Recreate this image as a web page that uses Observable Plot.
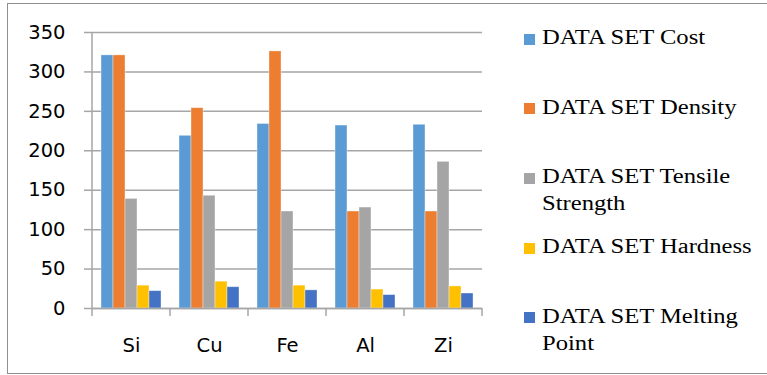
<!DOCTYPE html>
<html>
<head>
<meta charset="utf-8">
<script src="https://cdn.jsdelivr.net/npm/d3@7"></script>
<script src="https://cdn.jsdelivr.net/npm/@observablehq/plot@0.6"></script>
<style>
  html, body { margin: 0; padding: 0; background: #fff; overflow: hidden; }
  #wrap { position: relative; width: 767px; height: 375px; overflow: hidden; }
  #frame { position: absolute; left: 7px; top: 3px; width: 800px; height: 371px;
           border: 1px solid #8f8f8f; box-sizing: border-box; }
  #chart { position: absolute; left: 0; top: 0; }
  #legend { position: absolute; left: 524px; top: 0; width: 240px; height: 375px;
            font-family: "Liberation Serif", "Times New Roman", serif; font-size: 21.6px; color: #000; }
  .item { position: absolute; left: 0; }
  .sw { position: absolute; left: 0; width: 11px; height: 11px; }
  .lab { position: absolute; left: 18px; width: 192px; line-height: 27px;
         transform: scaleX(1.14); transform-origin: 0 0; }
</style>
</head>
<body>
<div id="wrap">
  <div id="frame"></div>
  <div id="chart"></div>
  <div id="legend"></div>
</div>
<script>
// Materials on the category axis
const categories = ["Si", "Cu", "Fe", "Al", "Zi"];

// Series names (legend order)
const series = [
  "DATA SET Cost",
  "DATA SET Density",
  "DATA SET Tensile Strength",
  "DATA SET Hardness",
  "DATA SET Melting Point"
];

// Values per series, one per material
const cost     = [321, 219, 234, 232, 233];
const density  = [321, 254, 326, 123, 123];
const tensile  = [139, 143, 123, 128, 186];
const hardness = [29, 34, 29, 24, 28];
const melting  = [22, 27, 23, 17, 19];

const colors = ["#5B9BD5", "#ED7D31", "#A5A5A5", "#FFC000", "#4472C4"];
const yTicks = [0, 50, 100, 150, 200, 250, 300, 350];

// Long-format table for the grouped bars
const seriesValues = [cost, density, tensile, hardness, melting];
const rows = [];
seriesValues.forEach((vals, si) =>
  vals.forEach((v, ci) => rows.push({category: categories[ci], series: series[si], value: v}))
);

const axisGray = "#a6a6a6";

const plot = Plot.plot({
  width: 490,
  height: 375,
  marginLeft: 90,
  marginRight: 7,
  marginTop: 32,
  marginBottom: 67,
  style: {fontFamily: "'DejaVu Sans', sans-serif", fontSize: "19.5px", color: "#000", background: "transparent", overflow: "visible"},
  fx: {domain: categories, padding: 0, label: null, axis: null},
  x: {domain: series, paddingInner: 0, paddingOuter: 0.72, axis: null},
  y: {domain: [0, 350], label: null, axis: null},
  color: {domain: series, range: colors},
  marks: [
    Plot.gridY(yTicks, {stroke: axisGray, strokeOpacity: 1, strokeWidth: 1.5}),
    Plot.barY(rows, {
      fx: "category", x: "series", y: "value", fill: "series",
      inset: 0, stroke: "#ffffff", strokeOpacity: 0.45, strokeWidth: 0.8
    }),
    Plot.ruleY([0], {stroke: axisGray, strokeWidth: 1.5}),
    Plot.axisY(yTicks, {
      tickSize: 8, tickPadding: 19, stroke: axisGray, strokeWidth: 1.5,
      fill: "#000", fontSize: 19.5, tickFormat: d => String(d)
    }),
    Plot.axisFx({
      anchor: "bottom", tickSize: 0, tickPadding: 30, fill: "#000", fontSize: 19.5, label: null
    })
  ]
});
document.getElementById("chart").appendChild(plot);

// Value axis line and category boundary tick marks, placed with the plot's scales
const fx = plot.scale("fx");
const y = plot.scale("y");
const svg = d3.select(plot);
const y0 = y.apply(0);
const yTop = y.apply(350);
const left = fx.apply(categories[0]);
const step = fx.step;
const g = svg.append("g").attr("stroke", axisGray).attr("stroke-width", 1.5);
g.append("line").attr("x1", left).attr("x2", left).attr("y1", yTop).attr("y2", y0 + 8);
categories.forEach((c) => {
  const xr = fx.apply(c) + step;
  g.append("line").attr("x1", xr).attr("x2", xr).attr("y1", y0).attr("y2", y0 + 8);
});

// Legend
const legend = d3.select("#legend");
const firstBaseline = 45, legendStep = 69.6;
series.forEach((s, i) => {
  const base = firstBaseline + i * legendStep;
  const item = legend.append("div").attr("class", "item").style("top", "0px");
  item.append("div").attr("class", "sw")
    .style("top", (base - 11.3) + "px")
    .style("background", colors[i]);
  item.append("div").attr("class", "lab")
    .style("top", (base - 20.9) + "px")
    .text(s);
});
</script>
</body>
</html>
